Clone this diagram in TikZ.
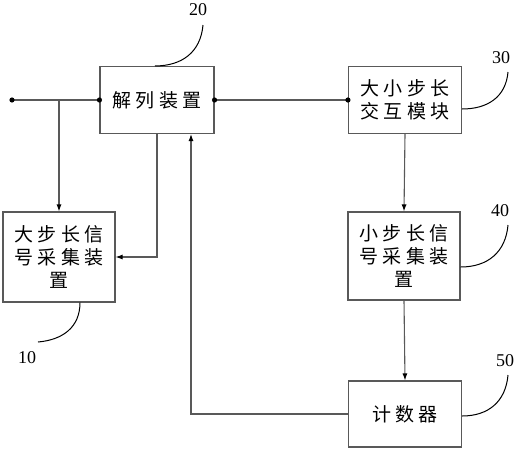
\documentclass[tikz,border=0pt]{standalone}
\usepackage{fontspec}
\setmainfont{Liberation Serif}
\newfontfamily\cjk[LetterSpace=22]{Noto Sans CJK SC}
\usetikzlibrary{arrows.meta}

\begin{document}
\begin{tikzpicture}[x=1pt, y=-1pt, >={Latex[length=7pt,width=5pt,black]},
	box/.style={draw=black!65, line width=1.1pt, align=center, inner sep=0pt,
		font=\cjk\fontsize{19}{23}\selectfont},
	wire/.style={draw=black!65, line width=1.1pt},
	lead/.style={draw=black, line width=1pt},
	num/.style={font=\fontsize{18}{18}\selectfont}]
	\useasboundingbox (0,0) rectangle (518,450);
	% blocks
	\node[box, minimum width=114pt, minimum height=67pt] (jl) at (157,100) {解列装置};
	\node[box, minimum width=113pt, minimum height=67pt] (jh) at (405,100) {大小步长\\交互模块};
	\node[box, minimum width=112pt, minimum height=90pt] (dbc) at (59,257) {大步长信\\号采集装\\置};
	\node[box, minimum width=112pt, minimum height=88pt] (xbc) at (404,256) {小步长信\\号采集装\\置};
	\node[box, minimum width=113pt, minimum height=66pt] (js) at (405,414) {计数器};
	% wires
	\coordinate (in) at (12,100);
	\draw[wire] (in) -- (jl.west);
	\draw[wire, ->] (dbc.north |- in) -- (dbc.north);
	\draw[wire, ->] (jl.south) |- (dbc.east);
	\draw[wire] (jl.east) -- (jh.west);
	\draw[wire, ->] (jh.south) -- (xbc.north);
	\draw[wire, ->] (xbc.south) -- (js.north);
	\draw[wire, ->] (js.west) -| ([xshift=34pt]jl.south);
	\foreach \p in {in, jl.west, jl.east, jh.west}
		\fill (\p) circle (2.6pt);
	% reference numbers
	\node[num] (n20) at (198,10) {20};
	\node[num] (n30) at (501,58) {30};
	\node[num] (n10) at (27,358) {10};
	\node[num] (n40) at (500,211) {40};
	\node[num] (n50) at (505,361) {50};
	\draw[lead] ([xshift=-2pt]jl.north) to[out=0, in=-95, looseness=1.1] (203,25);
	\draw[lead] ([yshift=-9pt]jh.east) to[out=0, in=-95, looseness=1.1] (508,72);
	\draw[lead] ([xshift=21pt]dbc.south) to[out=-90, in=5, looseness=1.1] (38,342);
	\draw[lead] ([yshift=-11pt]xbc.east) to[out=0, in=-95, looseness=1.1] (508,225);
	\draw[lead] ([yshift=-2pt]js.east) to[out=0, in=-95, looseness=1.1] (508,375);
\end{tikzpicture}
\end{document}
